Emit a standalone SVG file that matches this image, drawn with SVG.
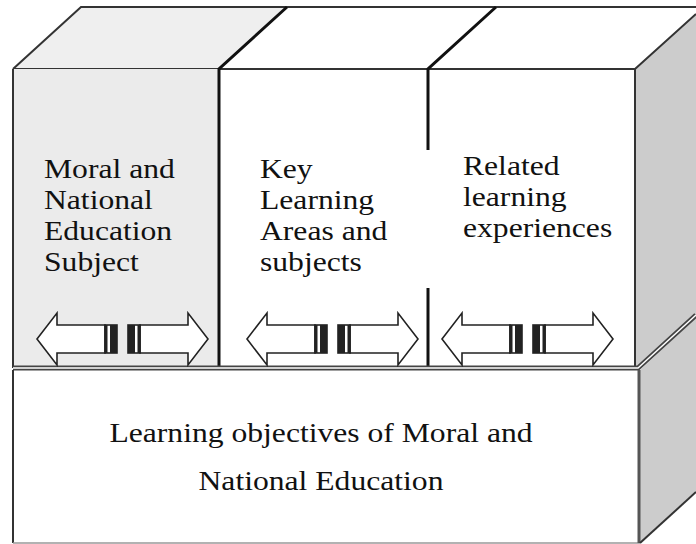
<svg xmlns="http://www.w3.org/2000/svg" width="696" height="544" viewBox="0 0 696 544">
  <defs>
    <style>
      .edge{fill:none;stroke:#333;stroke-width:2;stroke-linejoin:miter}
      .div{fill:none;stroke:#111;stroke-width:3}
      .lbl{font-family:"Liberation Serif","Times New Roman",serif;font-size:27.5px;fill:#111}
      .big{font-family:"Liberation Serif","Times New Roman",serif;font-size:27.5px;fill:#111;text-anchor:middle}
      .arr{fill:#fff;stroke:#222;stroke-width:1.6;stroke-linejoin:miter}
      .bar{fill:#222}
    </style>
    <g id="pair">
      <path class="arr" d="M0,0 L20,-26 L20,-14 L68,-14 L68,14 L20,14 L20,26 Z"/>
      <rect class="arr" x="68" y="-14" width="12" height="28"/>
      <rect class="bar" x="68" y="-14" width="2.5" height="28"/>
      <rect class="bar" x="73" y="-14" width="7" height="28"/>
      <path class="arr" d="M171,0 L151,-26 L151,-14 L103,-14 L103,14 L151,14 L151,26 Z"/>
      <rect class="arr" x="91" y="-14" width="12" height="28"/>
      <rect class="bar" x="91" y="-14" width="7" height="28"/>
      <rect class="bar" x="100.5" y="-14" width="2.5" height="28"/>
    </g>
  </defs>
  <rect width="696" height="544" fill="#fff"/>

  <!-- right side faces -->
  <g id="side">
    <polygon points="635,69 696,14 696,315 640,368 635,368" fill="#cccccc"/>
    <polygon points="640,370 696,318 696,492 640,543" fill="#cccccc"/>
  </g>

  <!-- top face -->
  <g id="top">
    <polygon points="13,69 81,7 287,7 219,69" fill="#efefef"/>
    <polygon points="219,69 287,7 696,7 696,14 635,69" fill="#fff"/>
    <path class="edge" d="M13,69 L81,7 L696,7"/>
    <path class="edge" d="M13,69 L635,69 L696,14"/>
  </g>

  <g id="panel1">
    <rect x="13" y="69" width="206" height="298" fill="#ebebeb"/>
    <path class="edge" d="M13,69 L13,368"/>
    <text class="lbl" transform="translate(44,0) scale(1.15,1)"><tspan x="0" y="178">Moral and</tspan><tspan x="0" y="209">National</tspan><tspan x="0" y="240">Education</tspan><tspan x="0" y="271">Subject</tspan></text>
  </g>

  <g id="panel2">
    <text class="lbl" transform="translate(260,0) scale(1.15,1)"><tspan x="0" y="178">Key</tspan><tspan x="0" y="209">Learning</tspan><tspan x="0" y="240">Areas and</tspan><tspan x="0" y="271">subjects</tspan></text>
  </g>

  <g id="panel3">
    <text class="lbl" transform="translate(463,0) scale(1.15,1)"><tspan x="0" y="175">Related</tspan><tspan x="0" y="206">learning</tspan><tspan x="0" y="237">experiences</tspan></text>
    <path class="edge" d="M635,69 L635,368"/>
  </g>

  <g id="dividers">
    <path class="div" d="M287,7 L219,69 L219,367"/>
    <path class="div" d="M496,7 L428,69 L428,150 M428,288 L428,367"/>
  </g>

  <g id="base">
    <path d="M13,368 L638,368 L696,315" fill="none" stroke="#444" stroke-width="5"/>
    <path d="M13,368 L638,368 L696,315" fill="none" stroke="#fff" stroke-width="1.4"/>
    <path class="edge" d="M13,370 L13,543"/>
    <path d="M13,543 L640,543" fill="none" stroke="#999" stroke-width="1.5"/>
    <path d="M639,370 L639,543" fill="none" stroke="#555" stroke-width="3"/>
    <path class="edge" d="M640,543 L696,492"/>
    <text class="big" transform="translate(321,0) scale(1.15,1)"><tspan x="0" y="442">Learning objectives of Moral and</tspan><tspan x="0" y="490">National Education</tspan></text>
  </g>

  <g id="connectors">
    <use href="#pair" x="37" y="339"/>
    <use href="#pair" x="247" y="339"/>
    <use href="#pair" x="442" y="339"/>
  </g>
</svg>
